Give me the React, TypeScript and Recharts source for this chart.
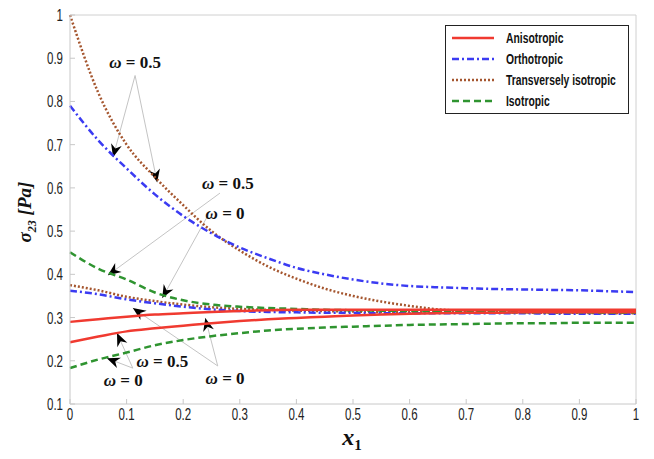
import { LineChart, Line, XAxis, YAxis, ReferenceLine, ReferenceDot } from 'recharts';

const xValues = [0, 0.05, 0.1, 0.15, 0.2, 0.25, 0.3, 0.35, 0.4, 0.45, 0.5, 0.55, 0.6, 0.65, 0.7, 0.75, 0.8, 0.85, 0.9, 0.95, 1];

// two curves per material (upper / lower)
const anisoUpper = [0.29, 0.296, 0.302, 0.307, 0.31, 0.313, 0.315, 0.317, 0.318, 0.318, 0.318, 0.318, 0.318, 0.318, 0.318, 0.318, 0.318, 0.318, 0.318, 0.318, 0.318];
const anisoLower = [0.243, 0.256, 0.268, 0.275, 0.281, 0.287, 0.292, 0.296, 0.299, 0.302, 0.305, 0.307, 0.309, 0.31, 0.311, 0.311, 0.312, 0.312, 0.312, 0.312, 0.312];
const orthoUpper = [0.79, 0.71, 0.645, 0.585, 0.535, 0.495, 0.462, 0.437, 0.415, 0.4, 0.388, 0.379, 0.373, 0.37, 0.368, 0.366, 0.365, 0.364, 0.363, 0.361, 0.359];
const orthoLower = [0.362, 0.354, 0.342, 0.333, 0.325, 0.319, 0.315, 0.313, 0.312, 0.311, 0.311, 0.31, 0.31, 0.31, 0.31, 0.31, 0.31, 0.309, 0.309, 0.309, 0.309];
const transUpper = [1.0, 0.82, 0.7, 0.625, 0.56, 0.5, 0.455, 0.418, 0.39, 0.367, 0.35, 0.337, 0.327, 0.319, 0.315, 0.313, 0.312, 0.311, 0.311, 0.31, 0.31];
const transLower = [0.375, 0.363, 0.348, 0.338, 0.33, 0.324, 0.32, 0.318, 0.316, 0.315, 0.314, 0.313, 0.313, 0.312, 0.312, 0.312, 0.312, 0.311, 0.311, 0.311, 0.311];
const isoUpper = [0.451, 0.413, 0.388, 0.358, 0.34, 0.33, 0.325, 0.322, 0.32, 0.318, 0.317, 0.316, 0.315, 0.314, 0.313, 0.313, 0.312, 0.312, 0.312, 0.311, 0.311];
const isoLower = [0.183, 0.203, 0.219, 0.236, 0.248, 0.257, 0.264, 0.27, 0.274, 0.277, 0.279, 0.281, 0.283, 0.284, 0.285, 0.286, 0.287, 0.287, 0.288, 0.288, 0.288];

const xTicks = [0, 0.1, 0.2, 0.3, 0.4, 0.5, 0.6, 0.7, 0.8, 0.9, 1];
const yTicks = [0.1, 0.2, 0.3, 0.4, 0.5, 0.6, 0.7, 0.8, 0.9, 1];

const legendItems = [
  { name: 'Anisotropic', color: '#f03a30', dash: '' },
  { name: 'Orthotropic', color: '#3b3bf2', dash: '7 3 2 3' },
  { name: 'Transversely isotropic', color: '#a5562f', dash: '2 2' },
  { name: 'Isotropic', color: '#2f9430', dash: '7 4' },
];

// annotation labels and leader arrows, in data units
const notes = [
  { text: '0.5', x: 0.115, y: 0.891 },
  { text: '0.5', x: 0.279, y: 0.611 },
  { text: '0', x: 0.274, y: 0.542 },
  { text: '0.5', x: 0.163, y: 0.2 },
  { text: '0', x: 0.094, y: 0.155 },
  { text: '0', x: 0.274, y: 0.16 },
];
const arrows = [
  { x1: 0.115, y1: 0.86, x2: 0.076, y2: 0.671 },
  { x1: 0.115, y1: 0.86, x2: 0.154, y2: 0.613 },
  { x1: 0.265, y1: 0.588, x2: 0.067, y2: 0.398 },
  { x1: 0.244, y1: 0.537, x2: 0.163, y2: 0.345 },
  { x1: 0.111, y1: 0.183, x2: 0.083, y2: 0.264 },
  { x1: 0.111, y1: 0.183, x2: 0.065, y2: 0.206 },
  { x1: 0.261, y1: 0.188, x2: 0.111, y2: 0.322 },
  { x1: 0.261, y1: 0.188, x2: 0.239, y2: 0.299 },
];

const data = xValues.map((x, i) => ({
  x,
  anisoUpper: anisoUpper[i],
  anisoLower: anisoLower[i],
  orthoUpper: orthoUpper[i],
  orthoLower: orthoLower[i],
  transUpper: transUpper[i],
  transLower: transLower[i],
  isoUpper: isoUpper[i],
  isoLower: isoLower[i],
}));

const tickFont = '"Liberation Sans", Arial, sans-serif';
const serif = '"Liberation Serif", "Times New Roman", serif';
const fmt = (v: number) => String(Math.round(v * 10) / 10);

// labels sit 3px off the axis; small inward tick marks like the matlab box
const XTick = (props: any) => {
  const { x, y, payload } = props;
  return (
    <g transform={`translate(${x},${y})`}>
      <line x1={0} x2={0} y1={-3} y2={-8} stroke="#c8c8c8" />
      <text transform="scale(0.72,1)" textAnchor="middle" dy={13} fontSize={16} fill="#222" fontFamily={tickFont}>
        {fmt(payload.value)}
      </text>
    </g>
  );
};

const YTick = (props: any) => {
  const { x, y, payload } = props;
  return (
    <g transform={`translate(${x},${y})`}>
      <line x1={7} x2={12} y1={0} y2={0} stroke="#c8c8c8" />
      <text transform="scale(0.72,1)" textAnchor="end" dy={6} fontSize={16} fill="#222" fontFamily={tickFont}>
        {fmt(payload.value)}
      </text>
    </g>
  );
};

const Arrow = (props: any) => {
  const { x1, y1, x2, y2 } = props;
  const a = Math.atan2(y2 - y1, x2 - x1) * 180 / Math.PI;
  return (
    <g>
      <line x1={x1} y1={y1} x2={x2} y2={y2} stroke="#c4c4c4" strokeWidth={1} />
      <polygon points="0,0 -13,-5.5 -9,0 -13,5.5" fill="#000" transform={`translate(${x2},${y2}) rotate(${a})`} />
    </g>
  );
};

const noteShape = (text: string) => (p: any) => (
  <text x={p.cx} y={p.cy} dy="0.35em" textAnchor="middle" fontFamily={serif} fontWeight="bold" fontSize={17} fill="#111">
    <tspan fontStyle="italic">ω</tspan> = {text}
  </text>
);

const LegendBox = () => (
  <svg width={184} height={89} style={{ display: 'block' }}>
    <rect x={0.5} y={0.5} width={183} height={88} fill="#fff" stroke="#222" strokeWidth={1} />
    {legendItems.map((it, i) => {
      const cy = 13 + i * 21;
      return (
        <g key={it.name}>
          <line x1={7} x2={49} y1={cy} y2={cy} stroke={it.color} strokeWidth={2.5} strokeDasharray={it.dash || undefined} />
          <text x={61} y={cy} dy={5} transform="translate(61,0) scale(0.74,1) translate(-61,0)" fontSize={14} fontWeight="bold" fontFamily={tickFont} fill="#111">
            {it.name}
          </text>
        </g>
      );
    })}
  </svg>
);

const YLabel = () => (
  <text transform="translate(31,212) rotate(-90)" textAnchor="middle" fontFamily={serif} fontWeight="bold" fontStyle="italic" fontSize={19} fill="#111">
    σ<tspan fontSize={12} dy={5}>23</tspan>
    <tspan dy={-5}> [Pa]</tspan>
  </text>
);

const XLabel = () => (
  <text x={352} y={445} textAnchor="middle" fontFamily={serif} fontWeight="bold" fontStyle="italic" fontSize={24} fill="#111">
    x<tspan fontSize={15} dy={5} fontStyle="normal">1</tspan>
  </text>
);

export default function App() {
  return (
    <div style={{ margin: -8, width: 654, height: 459, background: '#fff', position: 'relative' }}>
      <LineChart width={654} height={459} data={data} margin={{ top: 15, right: 18, bottom: 0, left: 0 }}>
        <XAxis
          dataKey="x"
          type="number"
          domain={[0, 1]}
          ticks={xTicks}
          tick={<XTick />}
          tickLine={false}
          tickSize={0}
          tickMargin={3}
          axisLine={{ stroke: '#c8c8c8' }}
          height={55}
        />
        <YAxis
          type="number"
          domain={[0.1, 1]}
          ticks={yTicks}
          tick={<YTick />}
          tickLine={false}
          tickSize={0}
          tickMargin={7}
          axisLine={{ stroke: '#c8c8c8' }}
          width={70}
          allowDataOverflow
        />
        <ReferenceLine y={1} stroke="#d0d0d0" />
        <ReferenceLine x={1} stroke="#d0d0d0" />
        {arrows.map((a, i) => (
          <ReferenceLine key={'a' + i} segment={[{ x: a.x1, y: a.y1 }, { x: a.x2, y: a.y2 }]} shape={<Arrow />} />
        ))}
        <Line dataKey="transUpper" stroke="#a5562f" strokeWidth={2.5} strokeDasharray="2 2" dot={false} type="monotone" isAnimationActive={false} />
        <Line dataKey="transLower" stroke="#a5562f" strokeWidth={2.5} strokeDasharray="2 2" dot={false} type="monotone" isAnimationActive={false} />
        <Line dataKey="orthoUpper" stroke="#3b3bf2" strokeWidth={2.5} strokeDasharray="7 3 2 3" dot={false} type="monotone" isAnimationActive={false} />
        <Line dataKey="orthoLower" stroke="#3b3bf2" strokeWidth={2.5} strokeDasharray="7 3 2 3" dot={false} type="monotone" isAnimationActive={false} />
        <Line dataKey="isoUpper" stroke="#2f9430" strokeWidth={2.5} strokeDasharray="7 4" dot={false} type="monotone" isAnimationActive={false} />
        <Line dataKey="isoLower" stroke="#2f9430" strokeWidth={2.5} strokeDasharray="7 4" dot={false} type="monotone" isAnimationActive={false} />
        <Line dataKey="anisoUpper" stroke="#f03a30" strokeWidth={2.5} dot={false} type="monotone" isAnimationActive={false} />
        <Line dataKey="anisoLower" stroke="#f03a30" strokeWidth={2.5} dot={false} type="monotone" isAnimationActive={false} />
        {notes.map((n, i) => (
          <ReferenceDot key={'n' + i} x={n.x} y={n.y} r={0} shape={noteShape(n.text)} />
        ))}
        <YLabel />
        <XLabel />
      </LineChart>
      <div style={{ position: 'absolute', left: 445, top: 25 }}>
        <LegendBox />
      </div>
    </div>
  );
}
